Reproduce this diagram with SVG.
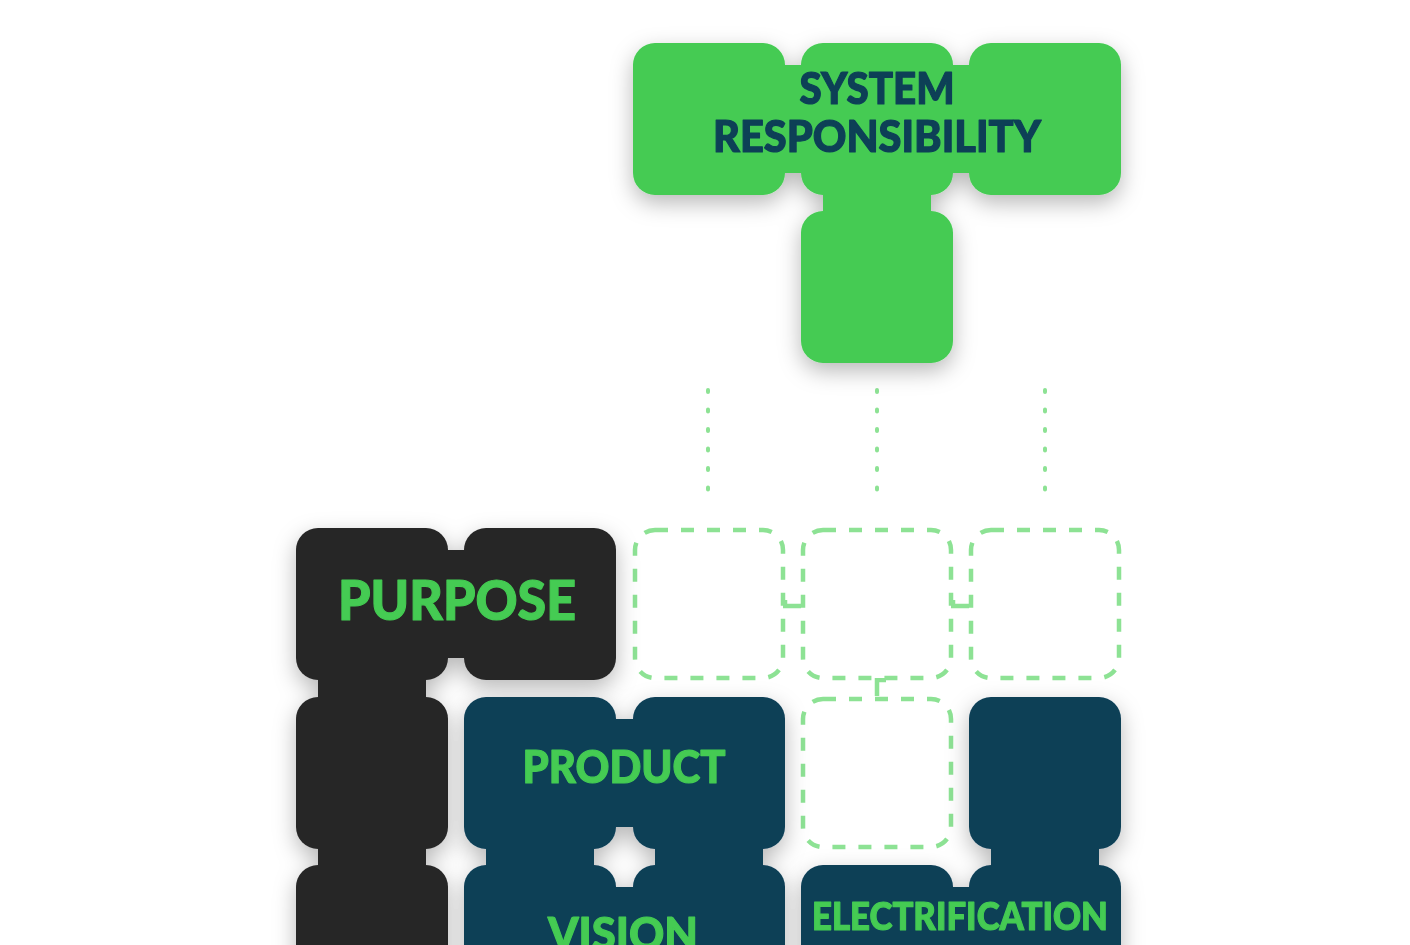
<svg xmlns="http://www.w3.org/2000/svg" width="1410" height="945" viewBox="0 0 1410 945">
<defs>
<filter id="sh" x="-25%" y="-25%" width="150%" height="150%">
<feDropShadow dx="0" dy="8" stdDeviation="11" flood-color="#000" flood-opacity="0.28"/>
</filter>
<style>
.g{fill:#44cb52}
.n{fill:#0c3f57}
.k{fill:#262626}
.d{fill:#fff;stroke:#8de294;stroke-width:4.5;stroke-dasharray:13 13}
.dot{stroke:#8de294;stroke-width:4;stroke-linecap:round;stroke-dasharray:2 17.5;fill:none}
.tick{stroke:#8de294;stroke-width:4.5;fill:none}
.t{font-family:Lato,"Liberation Sans",sans-serif;font-weight:900;text-anchor:middle;stroke-width:1.2;stroke-linejoin:round}
</style>
</defs>
<rect width="1410" height="945" fill="#fff"/>

<g id="connectors">
<line class="dot" x1="708" y1="390" x2="708" y2="490"/>
<line class="dot" x1="877" y1="390" x2="877" y2="490"/>
<line class="dot" x1="1045" y1="390" x2="1045" y2="490"/>
<path class="tick" d="M785 600 V606 H801"/>
<path class="tick" d="M953 600 V606 H969"/>
<path class="tick" d="M877 696 V680 H886"/>
</g>

<g id="system-responsibility" filter="url(#sh)">
<rect class="g" x="633" y="43" width="152" height="152" rx="22"/>
<rect class="g" x="801" y="43" width="152" height="152" rx="22"/>
<rect class="g" x="969" y="43" width="152" height="152" rx="22"/>
<rect class="g" x="801" y="211" width="152" height="152" rx="22"/>
<rect class="g" x="784" y="65" width="18" height="108"/>
<rect class="g" x="952" y="65" width="18" height="108"/>
<rect class="g" x="823" y="194" width="108" height="18"/>
<text class="t" x="877" y="104" font-size="44" fill="#0c3f57" stroke="#0c3f57" textLength="155" lengthAdjust="spacingAndGlyphs">SYSTEM</text>
<text class="t" x="877" y="152" font-size="44" fill="#0c3f57" stroke="#0c3f57" textLength="328" lengthAdjust="spacingAndGlyphs">RESPONSIBILITY</text>
</g>

<g id="placeholders">
<rect class="d" x="635" y="530" width="148" height="148" rx="20"/>
<rect class="d" x="803" y="530" width="148" height="148" rx="20"/>
<rect class="d" x="971" y="530" width="148" height="148" rx="20"/>
<rect class="d" x="803" y="699" width="148" height="148" rx="20"/>
</g>

<g id="purpose" filter="url(#sh)">
<rect class="k" x="296" y="528" width="152" height="152" rx="22"/>
<rect class="k" x="464" y="528" width="152" height="152" rx="22"/>
<rect class="k" x="296" y="697" width="152" height="152" rx="22"/>
<rect class="k" x="296" y="865" width="152" height="152" rx="22"/>
<rect class="k" x="447" y="550" width="18" height="108"/>
<rect class="k" x="318" y="679" width="108" height="19"/>
<rect class="k" x="318" y="848" width="108" height="18"/>
<text class="t" x="457" y="620" font-size="56" fill="#44cb52" stroke="#44cb52" textLength="238" lengthAdjust="spacingAndGlyphs">PURPOSE</text>
</g>

<g id="product-vision" filter="url(#sh)">
<rect class="n" x="464" y="697" width="152" height="152" rx="22"/>
<rect class="n" x="633" y="697" width="152" height="152" rx="22"/>
<rect class="n" x="464" y="865" width="152" height="152" rx="22"/>
<rect class="n" x="633" y="865" width="152" height="152" rx="22"/>
<rect class="n" x="615" y="719" width="19" height="108"/>
<rect class="n" x="615" y="887" width="19" height="108"/>
<rect class="n" x="486" y="848" width="108" height="18"/>
<rect class="n" x="655" y="848" width="108" height="18"/>
<text class="t" x="624" y="783" font-size="46" fill="#44cb52" stroke="#44cb52" textLength="203" lengthAdjust="spacingAndGlyphs">PRODUCT</text>
<text class="t" x="623" y="950" font-size="46" fill="#44cb52" stroke="#44cb52" textLength="150" lengthAdjust="spacingAndGlyphs">VISION</text>
</g>

<g id="electrification" filter="url(#sh)">
<rect class="n" x="969" y="697" width="152" height="152" rx="22"/>
<rect class="n" x="801" y="865" width="152" height="152" rx="22"/>
<rect class="n" x="969" y="865" width="152" height="152" rx="22"/>
<rect class="n" x="991" y="848" width="108" height="18"/>
<rect class="n" x="952" y="887" width="18" height="108"/>
<text class="t" x="960" y="930" font-size="38" fill="#44cb52" stroke="#44cb52" textLength="296" lengthAdjust="spacingAndGlyphs">ELECTRIFICATION</text>
</g>
</svg>
